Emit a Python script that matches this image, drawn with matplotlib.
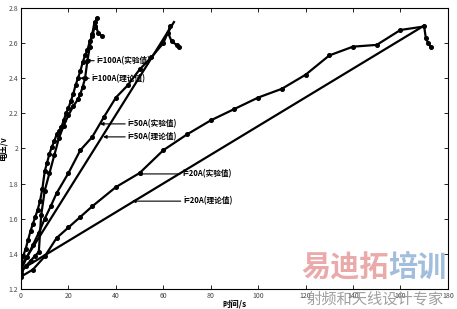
import matplotlib
matplotlib.use("Agg")
import matplotlib.pyplot as plt

plt.rcParams["font.family"] = ["Noto Sans CJK SC", "DejaVu Sans"]

# ---- data ----
t_100_exp = [0, 1, 2, 3, 4, 5, 6, 7, 8, 9, 10, 11, 12, 13, 14, 15, 16,
             17, 18, 19, 20, 21, 22, 23, 24, 25, 26, 27, 28, 29, 30, 31, 32,
             31.3, 32.6, 34.0]
v_100_exp = [1.34, 1.39, 1.43, 1.48, 1.53, 1.57, 1.61, 1.65, 1.70, 1.77,
             1.87, 1.92, 1.97, 2.01, 2.04, 2.08, 2.10, 2.12, 2.16, 2.20,
             2.23, 2.27, 2.31, 2.36, 2.40, 2.44, 2.49, 2.53, 2.56, 2.61,
             2.64, 2.69, 2.745, 2.70, 2.66, 2.64]

t_100_th = [0, 2, 4, 6, 7.5, 8.5, 10, 12, 14, 16, 18, 20, 22, 24, 25,
            26, 27, 28, 29, 30, 31]
v_100_th = [1.29, 1.33, 1.36, 1.39, 1.41, 1.62, 1.76, 1.86, 1.96, 2.06,
            2.13, 2.19, 2.24, 2.28, 2.31, 2.35, 2.40, 2.50, 2.58, 2.65, 2.72]

t_50_exp = [0, 2.5, 5, 7.5, 10, 12.5, 15, 20, 25, 30, 35, 40, 45, 50, 55,
            60, 63, 62.1, 63.5, 65.6, 66.6]
v_50_exp = [1.31, 1.38, 1.45, 1.52, 1.60, 1.67, 1.745, 1.86, 1.99, 2.065,
            2.18, 2.29, 2.36, 2.45, 2.52, 2.60, 2.695, 2.656, 2.61, 2.59,
            2.58]

t_50_th = [0, 64.5]
v_50_th = [1.33, 2.72]

t_20_exp = [0, 5, 10, 15, 20, 25, 30, 40, 50, 60, 70, 80, 90, 100, 110,
            120, 130, 140, 150, 160, 170, 170.7, 171.7, 172.7]
v_20_exp = [1.27, 1.31, 1.385, 1.49, 1.55, 1.61, 1.67, 1.78, 1.86, 1.99,
            2.08, 2.16, 2.225, 2.29, 2.34, 2.42, 2.53, 2.58, 2.59, 2.675,
            2.695, 2.63, 2.60, 2.58]

t_20_th = [0, 170]
v_20_th = [1.31, 2.70]

labels = ["i=100A(实验值)", "i=100A(理论值)", "i=50A(实验值)",
          "i=50A(理论值)", "i=20A(实验值)", "i=20A(理论值)"]
label_tips = [(27.4, 2.50), (24.9, 2.40), (33.3, 2.14), (34.6, 2.066),
              (49.3, 1.855), (46.8, 1.70)]
label_pos = [(32.0, 2.50), (29.9, 2.40), (45.1, 2.14), (45.1, 2.066),
             (68.3, 1.855), (68.5, 1.70)]

x_ticks = list(range(0, 181, 20))
y_ticks = [1.2, 1.4, 1.6, 1.8, 2.0, 2.2, 2.4, 2.6, 2.8]
y_tick_labels = ["1.2", "1.4", "1.6", "1.8", "2", "2.2", "2.4", "2.6", "2.8"]

# ---- figure ----
fig = plt.figure(figsize=(4.57, 3.09), dpi=100)
ax = fig.add_axes([0.046, 0.065, 0.934, 0.909])

line_kw = dict(color="black", linewidth=1.6)
ax.plot(t_100_exp, v_100_exp, marker="o", markersize=2.6, **line_kw)
ax.plot(t_100_th, v_100_th, marker="o", markersize=2.6, **line_kw)
ax.plot(t_50_exp, v_50_exp, marker="o", markersize=2.6, **line_kw)
ax.plot(t_50_th, v_50_th, **line_kw)
ax.plot(t_20_exp, v_20_exp, marker="o", markersize=2.6, **line_kw)
ax.plot(t_20_th, v_20_th, **line_kw)

for text, tip, pos in zip(labels, label_tips, label_pos):
    ax.annotate(text, xy=tip, xytext=pos, fontsize=5.5, fontweight="bold",
                va="center", ha="left",
                arrowprops=dict(arrowstyle="-|>", color="black",
                                linewidth=0.8, mutation_scale=5,
                                shrinkA=0, shrinkB=0))

ax.set_xlim(0, 180)
ax.set_ylim(1.2, 2.8)
ax.set_xticks(x_ticks)
ax.set_yticks(y_ticks)
ax.set_yticklabels(y_tick_labels)
ax.tick_params(direction="in", top=True, right=True, length=3, width=0.6,
               labelsize=5, labelcolor="#444444", pad=2)
for s in ax.spines.values():
    s.set_linewidth(0.8)

ax.set_xlabel("时间/s", fontsize=6, fontweight="bold", labelpad=0)
ax.set_ylabel("电压/v", fontsize=6, fontweight="bold")
ax.yaxis.set_label_coords(-0.031, 0.5)

# watermark (bottom right, as in the source image)
fig.text(0.66, 0.136, "易迪拓", fontsize=21, fontweight="bold",
         color="#e79b9b", alpha=0.85, ha="left", va="center")
fig.text(0.85, 0.136, "培训", fontsize=21, fontweight="bold",
         color="#93b3d6", alpha=0.85, ha="left", va="center")
fig.text(0.67, 0.032, "射频和天线设计专家", fontsize=11,
         color="#888888", alpha=0.8, ha="left", va="center")

fig.savefig("out.png", dpi=100)
